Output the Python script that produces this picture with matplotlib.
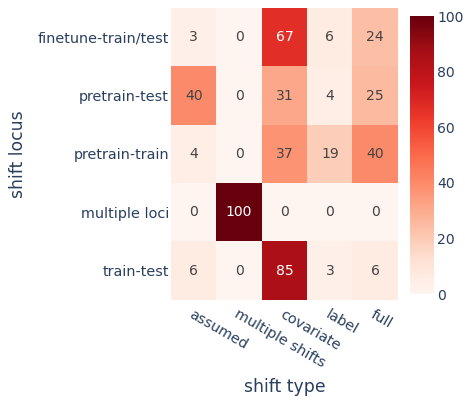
import numpy as np
import matplotlib
matplotlib.use("Agg")
import matplotlib.pyplot as plt
from matplotlib.colors import Normalize

# shift type (columns) vs shift locus (rows), percentages
shift_types = ["assumed", "multiple shifts", "covariate", "label", "full"]
shift_loci = ["finetune-train/test", "pretrain-test", "pretrain-train",
              "multiple loci", "train-test"]
row_finetune = [3, 0, 67, 6, 24]
row_pretrain_test = [40, 0, 31, 4, 25]
row_pretrain_train = [4, 0, 37, 19, 40]
row_multiple = [0, 100, 0, 0, 0]
row_train_test = [6, 0, 85, 3, 6]
cbar_ticks = [0, 20, 40, 60, 80, 100]

values = np.array([row_finetune, row_pretrain_test, row_pretrain_train,
                   row_multiple, row_train_test], dtype=float)

W, H, DPI = 465, 401, 100
FONT = "DejaVu Sans"
INK = "#2a3f5f"
px = lambda p: p * 72 / DPI

fig = plt.figure(figsize=(W / DPI, H / DPI), dpi=DPI)
fig.patch.set_facecolor("white")

ax = fig.add_axes([171 / W, 1 - 300 / H, 227 / W, 292 / H])
norm = Normalize(vmin=0, vmax=100)
cmap = plt.get_cmap("Reds")
im = ax.imshow(values, cmap=cmap, norm=norm, aspect="auto",
               interpolation="nearest")

for i in range(values.shape[0]):
    for j in range(values.shape[1]):
        v = values[i, j]
        color = "white" if v > 50 else "#444444"
        ax.text(j, i, f"{int(v)}", ha="center", va="center",
                fontsize=px(14), family=FONT, color=color)

for s in ax.spines.values():
    s.set_visible(False)
ax.set_xticks(range(len(shift_types)))
ax.set_yticks(range(len(shift_loci)))
ax.set_yticklabels(shift_loci, fontsize=px(14.4), family=FONT, color=INK)
ax.set_xticklabels(shift_types, fontsize=px(14.4), family=FONT, color=INK,
                   rotation=-30, ha="left", va="top", rotation_mode="anchor")
ax.tick_params(axis="y", length=0, pad=px(2))
ax.tick_params(axis="x", length=0, pad=px(7))
ax.set_xlabel("shift type", fontsize=px(17.3), family=FONT, color=INK,
              labelpad=px(8))
ax.set_ylabel("shift locus", fontsize=px(17.3), family=FONT, color=INK,
              labelpad=px(11))

cax = fig.add_axes([410 / W, 1 - 294 / H, 24 / W, 278 / H])
cb = fig.colorbar(im, cax=cax, ticks=cbar_ticks)
cb.outline.set_visible(False)
cax.tick_params(length=0, pad=px(3), labelsize=px(14), labelcolor=INK)
for t in cax.get_yticklabels():
    t.set_family(FONT)

fig.savefig("out.png", dpi=DPI, facecolor="white")
